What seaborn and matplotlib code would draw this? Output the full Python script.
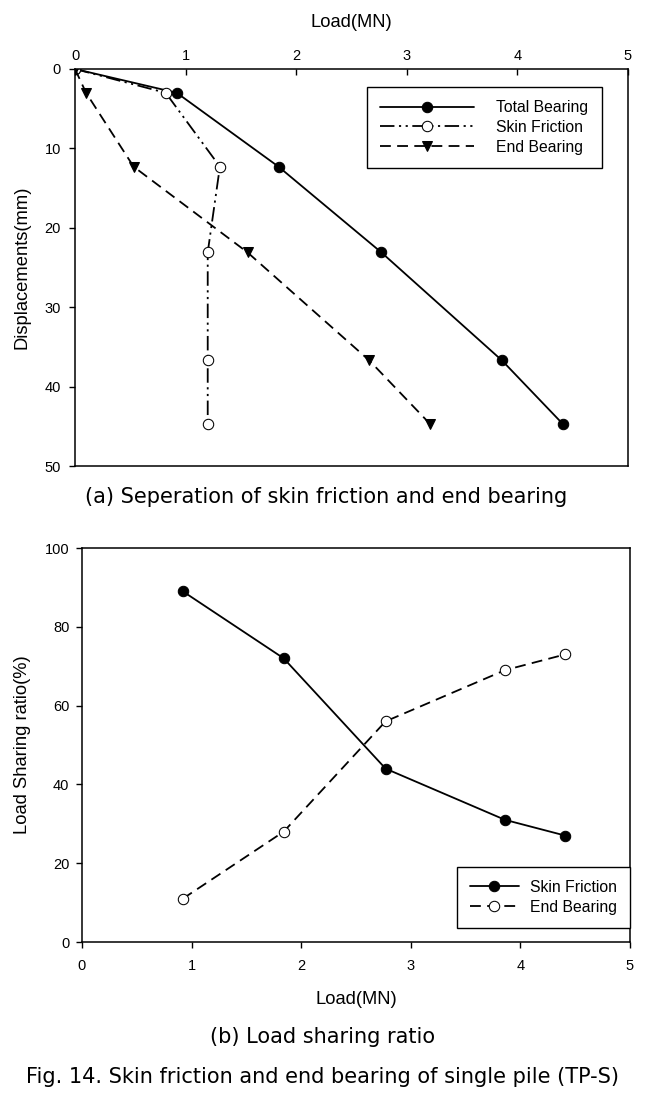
import numpy as np
import pandas as pd
import matplotlib
matplotlib.use("Agg")
import matplotlib.pyplot as plt
import seaborn as sns

# ---------------------------------------------------------------------------
# Data
# ---------------------------------------------------------------------------
# (a) load-displacement
displacement = [0, 3.0, 12.3, 23.1, 36.7, 44.7]          # mm
load_total = [0, 0.92, 1.84, 2.77, 3.86, 4.41]           # MN
load_skin = [0, 0.82, 1.31, 1.20, 1.20, 1.20]            # MN
load_end = [0, 0.10, 0.53, 1.56, 2.66, 3.21]             # MN

# (b) load sharing ratio
load_b = [0.92, 1.84, 2.77, 3.86, 4.41]                  # MN
ratio_skin = [89, 72, 44, 31, 27]                        # %
ratio_end = [11, 28, 56, 69, 73]                         # %

sns.set_theme(style="white")
plt.rcParams["font.family"] = ["Liberation Sans", "DejaVu Sans"]
plt.rcParams["text.color"] = "black"
plt.rcParams["axes.labelcolor"] = "black"
plt.rcParams["axes.linewidth"] = 1.1
plt.rcParams["xtick.major.width"] = 1.0
plt.rcParams["ytick.major.width"] = 1.0

fig = plt.figure(figsize=(6.54, 11.01), dpi=100)
W, H = 654, 1101

def px_axes(left, top, right, bottom):
    return fig.add_axes([left / W, 1 - bottom / H, (right - left) / W, (bottom - top) / H])

tick_fs = 10.5
lab_fs = 13.2
leg_fs = 11.3
cap_fs = 15

# ---------------------------------------------------------------------------
# (a) Separation of skin friction and end bearing
# ---------------------------------------------------------------------------
ax1 = px_axes(75, 69, 628, 466)
df_a = pd.DataFrame({"disp": displacement, "total": load_total,
                     "skin": load_skin, "end": load_end})

sns.lineplot(data=df_a, x="total", y="disp", sort=False, estimator=None, ax=ax1,
             color="black", lw=1.3, marker="o", markersize=7.5,
             markerfacecolor="black", markeredgecolor="black", label="Total Bearing")
sns.lineplot(data=df_a, x="skin", y="disp", sort=False, estimator=None, ax=ax1,
             color="black", lw=1.3, marker="o", markersize=7.5,
             markerfacecolor="white", markeredgecolor="black",
             dashes=(8, 2.5, 1.2, 2.5, 1.2, 2.5), label="Skin Friction")
sns.lineplot(data=df_a, x="end", y="disp", sort=False, estimator=None, ax=ax1,
             color="black", lw=1.3, marker="v", markersize=7,
             markerfacecolor="black", markeredgecolor="black",
             dashes=(6, 3.5), label="End Bearing")

ax1.set_xlim(0, 5)
ax1.set_ylim(50, 0)
ax1.set_xticks(range(0, 6))
ax1.set_yticks(range(0, 51, 10))
ax1.xaxis.tick_top()
ax1.xaxis.set_label_position("top")
ax1.tick_params(axis="x", direction="in", length=4, labelsize=tick_fs, pad=4, colors="black")
ax1.tick_params(axis="y", direction="out", length=4, labelsize=tick_fs, pad=6, colors="black", left=True)
ax1.set_xlabel("Load(MN)", fontsize=lab_fs, labelpad=16)
ax1.set_ylabel("Displacements(mm)", fontsize=lab_fs, labelpad=10)
for s in ax1.spines.values():
    s.set_color("black")

leg1 = ax1.legend(loc="upper left", bbox_to_anchor=(0.528, 0.955), fontsize=leg_fs,
                  frameon=True, fancybox=False, edgecolor="black", framealpha=1,
                  handlelength=6.0, handletextpad=1.4, labelspacing=0.3,
                  borderpad=0.85, borderaxespad=0)
leg1.get_frame().set_linewidth(1.0)

fig.text(326 / W, 1 - 497 / H, "(a) Seperation of skin friction and end bearing",
         ha="center", va="center", fontsize=cap_fs, color="black",
         family=["DejaVu Sans"])

# ---------------------------------------------------------------------------
# (b) Load sharing ratio
# ---------------------------------------------------------------------------
ax2 = px_axes(82, 548, 630, 942)
df_b = pd.DataFrame({"load": load_b, "skin": ratio_skin, "end": ratio_end})

sns.lineplot(data=df_b, x="load", y="skin", estimator=None, ax=ax2, color="black",
             lw=1.3, marker="o", markersize=7.5, markerfacecolor="black",
             markeredgecolor="black", label="Skin Friction")
sns.lineplot(data=df_b, x="load", y="end", estimator=None, ax=ax2, color="black",
             lw=1.3, marker="o", markersize=7.5, markerfacecolor="white",
             markeredgecolor="black", dashes=(6, 3.5), label="End Bearing")

ax2.set_xlim(0, 5)
ax2.set_ylim(0, 100)
ax2.set_xticks(range(0, 6))
ax2.set_yticks(range(0, 101, 20))
ax2.tick_params(axis="x", direction="out", length=4, labelsize=tick_fs, pad=8,
                colors="black", bottom=True)
ax2.tick_params(axis="y", direction="out", length=4, labelsize=tick_fs, pad=5,
                colors="black", left=True)
ax2.set_xlabel("Load(MN)", fontsize=lab_fs, labelpad=13)
ax2.set_ylabel("Load Sharing ratio(%)", fontsize=lab_fs, labelpad=10)
for s in ax2.spines.values():
    s.set_color("black")

leg2 = ax2.legend(loc="lower right", bbox_to_anchor=(1.0, 0.0355), fontsize=leg_fs,
                  frameon=True, fancybox=False, edgecolor="black", framealpha=1,
                  handlelength=3.1, handletextpad=0.7, labelspacing=0.3,
                  borderpad=0.85, borderaxespad=0)
leg2.get_frame().set_linewidth(1.0)

fig.text(323 / W, 1 - 1037 / H, "(b) Load sharing ratio",
         ha="center", va="center", fontsize=cap_fs, color="black",
         family=["DejaVu Sans"])
fig.text(323 / W, 1 - 1077 / H, "Fig. 14. Skin friction and end bearing of single pile (TP-S)",
         ha="center", va="center", fontsize=cap_fs, color="black",
         family=["DejaVu Sans"])

fig.savefig("out.png", dpi=100)
plt.close(fig)
